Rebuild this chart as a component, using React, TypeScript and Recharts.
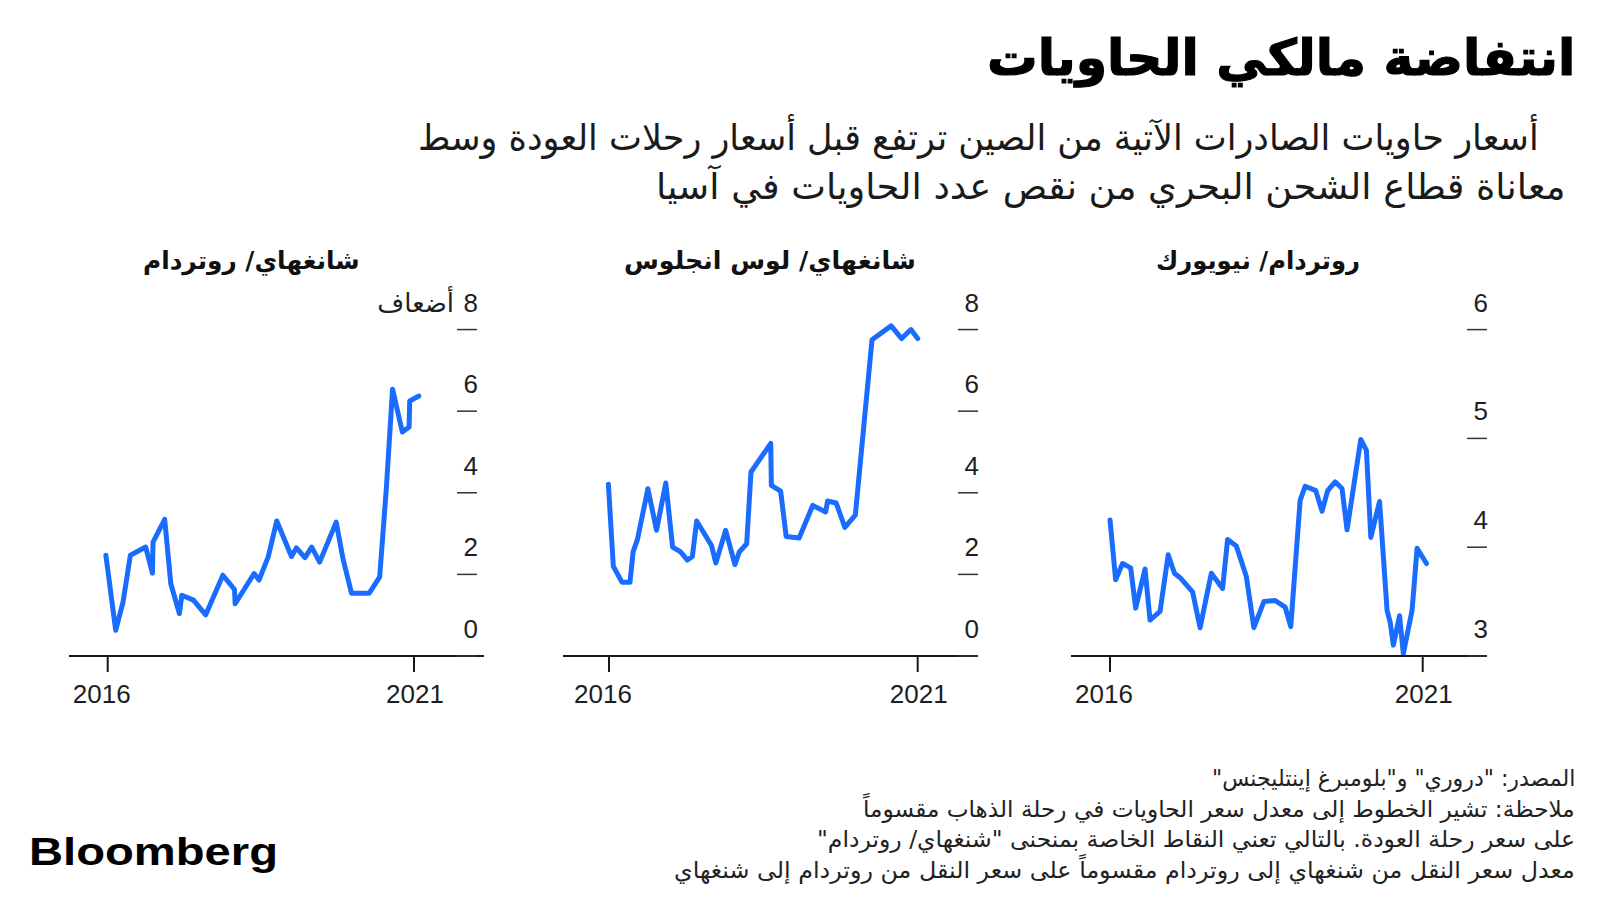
import React, { useLayoutEffect, useRef, useState } from 'react';
import { LineChart, Line, XAxis, YAxis } from 'recharts';

// decimal years + ratio values
const shRtDates = [2015.97, 2016.13, 2016.25, 2016.37, 2016.62, 2016.73, 2016.74, 2016.93, 2017.03, 2017.17, 2017.21, 2017.4, 2017.6, 2017.88, 2018.07, 2018.08, 2018.39, 2018.47, 2018.62, 2018.76, 2019.0, 2019.08, 2019.22, 2019.33, 2019.46, 2019.73, 2019.84, 2019.98, 2020.27, 2020.44, 2020.55, 2020.65, 2020.81, 2020.92, 2020.93, 2021.08];
const shRtValues = [2.47, 0.63, 1.32, 2.47, 2.67, 2.03, 2.79, 3.35, 1.77, 1.04, 1.49, 1.37, 1.01, 1.98, 1.63, 1.28, 2.02, 1.86, 2.43, 3.31, 2.44, 2.65, 2.41, 2.67, 2.3, 3.28, 2.39, 1.54, 1.54, 1.94, 4.14, 6.54, 5.49, 5.61, 6.25, 6.37];

const shLaDates = [2015.99, 2016.07, 2016.21, 2016.34, 2016.39, 2016.46, 2016.63, 2016.77, 2016.92, 2017.03, 2017.16, 2017.27, 2017.35, 2017.42, 2017.66, 2017.73, 2017.89, 2018.04, 2018.11, 2018.23, 2018.3, 2018.62, 2018.63, 2018.78, 2018.87, 2019.08, 2019.3, 2019.51, 2019.54, 2019.68, 2019.82, 2019.99, 2020.26, 2020.57, 2020.74, 2020.89, 2021.0];
const shLaValues = [4.21, 2.2, 1.81, 1.81, 2.55, 2.85, 4.1, 3.08, 4.24, 2.67, 2.55, 2.35, 2.44, 3.31, 2.71, 2.28, 3.08, 2.24, 2.55, 2.75, 4.51, 5.21, 4.18, 4.04, 2.93, 2.89, 3.69, 3.53, 3.8, 3.75, 3.15, 3.45, 7.75, 8.09, 7.78, 8.0, 7.78];

const rtNyDates = [2016.0, 2016.09, 2016.2, 2016.33, 2016.41, 2016.56, 2016.64, 2016.8, 2016.93, 2017.03, 2017.12, 2017.32, 2017.44, 2017.62, 2017.8, 2017.88, 2018.02, 2018.18, 2018.3, 2018.46, 2018.64, 2018.8, 2018.89, 2019.04, 2019.12, 2019.29, 2019.39, 2019.48, 2019.6, 2019.71, 2019.79, 2020.01, 2020.1, 2020.17, 2020.31, 2020.43, 2020.48, 2020.53, 2020.63, 2020.69, 2020.83, 2020.91, 2021.06];
const rtNyValues = [4.25, 3.7, 3.85, 3.81, 3.44, 3.8, 3.33, 3.41, 3.93, 3.76, 3.72, 3.59, 3.26, 3.76, 3.62, 4.07, 4.01, 3.73, 3.26, 3.5, 3.51, 3.45, 3.27, 4.43, 4.56, 4.52, 4.33, 4.52, 4.6, 4.54, 4.16, 4.99, 4.89, 4.09, 4.42, 3.42, 3.31, 3.1, 3.37, 3.02, 3.42, 3.99, 3.85];

const yearTicks = [2016, 2021];
const multipleTicks = [0, 2, 4, 6, 8];
const rtNyTicks = [3, 4, 5, 6];

const titleText = 'انتفاضة مالكي الحاويات';
const subtitleLines = [
  'أسعار حاويات الصادرات الآتية من الصين ترتفع قبل أسعار رحلات العودة وسط',
  'معاناة قطاع الشحن البحري من نقص عدد الحاويات في آسيا',
];
const panelTitles = ['شانغهاي/ روتردام', 'شانغهاي/ لوس انجلوس', 'روتردام/ نيويورك'];
const unitLabel = 'أضعاف';
const footnoteLines = [
  'المصدر: "دروري" و"بلومبرغ إينتليجنس"',
  'ملاحظة: تشير الخطوط إلى معدل سعر الحاويات في رحلة الذهاب مقسوماً',
  'على سعر رحلة العودة. بالتالي تعني النقاط الخاصة بمنحنى "شنغهاي/ روتردام"',
  'معدل سعر النقل من شنغهاي إلى روتردام مقسوماً على سعر النقل من روتردام إلى شنغهاي',
];

const ARABIC = '"DejaVu Sans", sans-serif';
const DIGITS = '"Liberation Sans", Arial, sans-serif';
const BLUE = '#1a6cff';
const INK = '#1e1e1e';
const PLOT_TOP = 301;
const PLOT_H = 355;
const HEAD_ROOM = 40; // space above the plot for the top tick label
const Y_AXIS_W = 2;

// squeezes/stretches a line of RTL text to the width it has in the reference
function FitText({ text, right, centerY, width, size, weight = 400, color = '#111', stroke = 0 }: any) {
  const ref = useRef<HTMLSpanElement>(null);
  const [k, setK] = useState(1);
  useLayoutEffect(() => {
    if (ref.current && ref.current.offsetWidth) setK(width / ref.current.offsetWidth);
  }, [text, width]);
  const lh = Math.round(size * 1.4);
  return (
    <div
      style={{
        position: 'absolute',
        right: 1600 - right,
        top: centerY - lh / 2,
        height: lh,
        lineHeight: lh + 'px',
        whiteSpace: 'nowrap',
        direction: 'rtl',
        fontFamily: ARABIC,
        fontSize: size,
        fontWeight: weight,
        color,
        WebkitTextStroke: stroke ? `${stroke}px ${color}` : undefined,
      }}
    >
      <span ref={ref} style={{ display: 'inline-block', transform: `scaleX(${k})`, transformOrigin: 'right center' }}>
        {text}
      </span>
    </div>
  );
}

function Panel({ dates, values, left, width, xDomain, yDomain, yTicks, dashInset, unit }: any) {
  const data = dates.map((t: number, i: number) => ({ t, v: values[i] }));
  const top = yTicks[yTicks.length - 1];
  const renderYTick = ({ x, y, payload }: any) => {
    const r = x - dashInset;
    return (
      <g>
        <line x1={r - 20} x2={r} y1={y} y2={y} stroke="#333" strokeWidth={1.5} />
        <text x={r + 1} y={y - 18} textAnchor="end" fontFamily={DIGITS} fontSize={26} fill={INK}>
          {payload.value}
        </text>
        {unit && payload.value === top ? (
          <text x={r - 23} y={y - 18} textAnchor="end" fontFamily={ARABIC} fontSize={26} fill={INK}>
            {unit}
          </text>
        ) : null}
      </g>
    );
  };
  const renderXTick = ({ x, y, payload }: any) => (
    <text
      x={x}
      y={y}
      dx={payload.value === yearTicks[0] ? -6 : 1}
      dy={31}
      textAnchor="middle"
      fontFamily={DIGITS}
      fontSize={26}
      fill={INK}
    >
      {payload.value}
    </text>
  );
  return (
    <div style={{ position: 'absolute', left, top: PLOT_TOP - HEAD_ROOM }}>
      <LineChart
        width={width + Y_AXIS_W}
        height={HEAD_ROOM + PLOT_H + 60}
        data={data}
        margin={{ top: HEAD_ROOM, right: 0, left: 0, bottom: 0 }}
      >
        <XAxis
          dataKey="t"
          type="number"
          domain={xDomain}
          ticks={yearTicks}
          interval={0}
          height={60}
          axisLine={{ stroke: '#1a1a1a', strokeWidth: 2 }}
          tickLine={{ stroke: '#1a1a1a', strokeWidth: 2 }}
          tickSize={16}
          tickMargin={0}
          tick={renderXTick}
        />
        <YAxis
          orientation="right"
          width={Y_AXIS_W}
          type="number"
          domain={yDomain}
          ticks={yTicks}
          interval={0}
          axisLine={false}
          tickLine={false}
          tickSize={0}
          tickMargin={0}
          tick={renderYTick}
        />
        <Line
          dataKey="v"
          type="linear"
          stroke={BLUE}
          strokeWidth={5}
          strokeLinejoin="round"
          strokeLinecap="round"
          dot={false}
          activeDot={false}
          isAnimationActive={false}
        />
      </LineChart>
    </div>
  );
}

export default function App() {
  return (
    <div style={{ position: 'absolute', left: 0, top: 0, width: 1600, height: 900, background: '#fff', overflow: 'hidden' }}>
      <FitText text={titleText} right={1575} centerY={58} width={588} size={50} weight={700} color="#000" stroke={1.2} />
      <FitText text={subtitleLines[0]} right={1539} centerY={138} width={1121} size={36} color="#1a1a1a" />
      <FitText text={subtitleLines[1]} right={1566} centerY={187} width={910} size={36} color="#1a1a1a" />

      <FitText text={panelTitles[0]} right={360} centerY={260} width={217} size={25} weight={700} color="#111" />
      <FitText text={panelTitles[1]} right={916} centerY={260} width={292} size={25} weight={700} color="#111" />
      <FitText text={panelTitles[2]} right={1360} centerY={260} width={204} size={25} weight={700} color="#111" />

      <Panel
        dates={shRtDates}
        values={shRtValues}
        left={69}
        width={415}
        xDomain={[2015.368, 2022.143]}
        yDomain={[0, 8.7]}
        yTicks={multipleTicks}
        dashInset={7}
        unit={unitLabel}
      />
      <Panel
        dates={shLaDates}
        values={shLaValues}
        left={563}
        width={415}
        xDomain={[2015.255, 2021.977]}
        yDomain={[0, 8.7]}
        yTicks={multipleTicks}
        dashInset={0}
      />
      <Panel
        dates={rtNyDates}
        values={rtNyValues}
        left={1071}
        width={416}
        xDomain={[2015.376, 2022.028]}
        yDomain={[3, 6.263]}
        yTicks={rtNyTicks}
        dashInset={0}
      />

      {footnoteLines.map((line, i) => (
        <FitText
          key={i}
          text={line}
          right={1575}
          centerY={778 + i * 30.6}
          width={[363, 712, 758, 901][i]}
          size={23}
          color="#222"
        />
      ))}

      <svg style={{ position: 'absolute', left: 0, top: 800 }} width={320} height={90}>
        <text
          x={29}
          y={65}
          textLength={249}
          lengthAdjust="spacingAndGlyphs"
          fontFamily={DIGITS}
          fontWeight={700}
          fontSize={38}
          fill="#000"
        >
          Bloomberg
        </text>
      </svg>
    </div>
  );
}
